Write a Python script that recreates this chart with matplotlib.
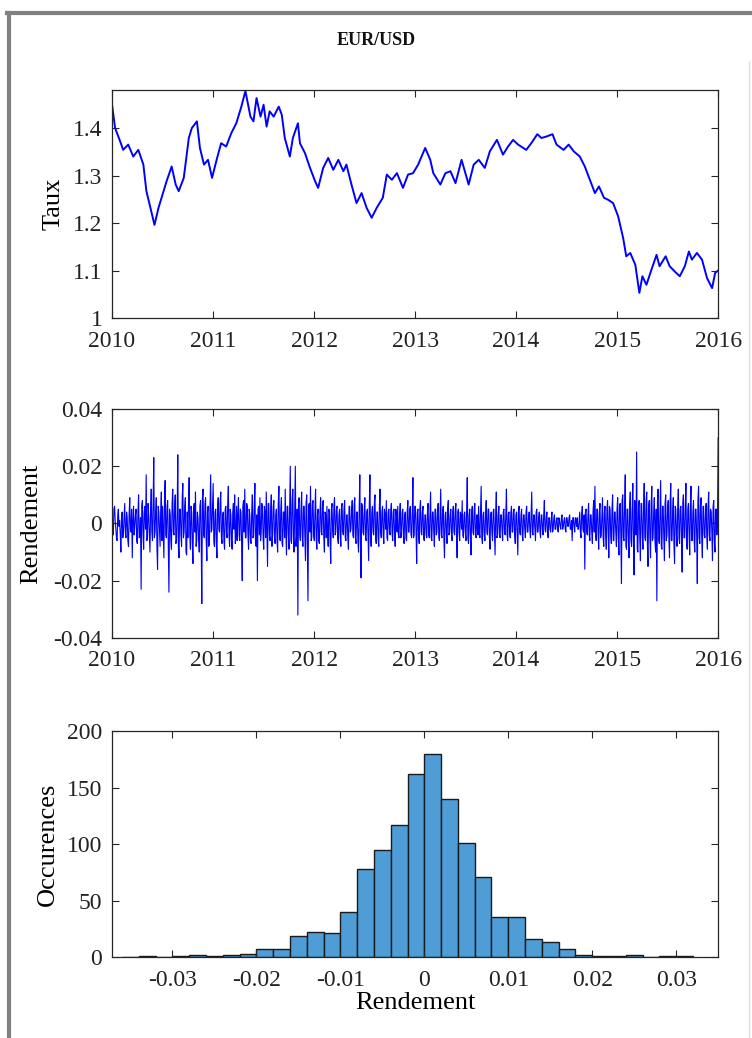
import numpy as np
import matplotlib
matplotlib.use("Agg")
import matplotlib.pyplot as plt
from matplotlib.ticker import FormatStrFormatter
from matplotlib.lines import Line2D

plt.rcParams['font.family'] = ['Liberation Serif', 'DejaVu Serif']
plt.rcParams['font.size'] = 17

# EUR/USD rate (decimal year, rate)
taux_t = [2010.00, 2010.03, 2010.08, 2010.11, 2010.16, 2010.21, 2010.26, 2010.31, 2010.34, 2010.38,
          2010.42, 2010.46, 2010.50, 2010.54, 2010.59, 2010.63, 2010.66, 2010.71, 2010.76, 2010.79,
          2010.84, 2010.87, 2010.91, 2010.95, 2010.99, 2011.04, 2011.08, 2011.13, 2011.18, 2011.23,
          2011.28, 2011.32, 2011.37, 2011.40, 2011.43, 2011.47, 2011.50, 2011.53, 2011.56, 2011.60,
          2011.65, 2011.68, 2011.71, 2011.76, 2011.79, 2011.84, 2011.86, 2011.91, 2011.96, 2012.01,
          2012.04, 2012.09, 2012.14, 2012.19, 2012.24, 2012.29, 2012.32, 2012.37, 2012.42, 2012.47,
          2012.52, 2012.57, 2012.62, 2012.68, 2012.72, 2012.77, 2012.82, 2012.88, 2012.93, 2012.98,
          2013.03, 2013.10, 2013.15, 2013.18, 2013.25, 2013.30, 2013.35, 2013.40, 2013.46, 2013.53,
          2013.58, 2013.63, 2013.69, 2013.74, 2013.81, 2013.87, 2013.92, 2013.97, 2014.02, 2014.10,
          2014.15, 2014.21, 2014.25, 2014.30, 2014.36, 2014.40, 2014.47, 2014.52, 2014.57, 2014.63,
          2014.68, 2014.73, 2014.78, 2014.82, 2014.87, 2014.91, 2014.96, 2015.01, 2015.06, 2015.09,
          2015.13, 2015.18, 2015.22, 2015.25, 2015.29, 2015.34, 2015.39, 2015.42, 2015.48, 2015.52,
          2015.57, 2015.62, 2015.67, 2015.71, 2015.74, 2015.79, 2015.84, 2015.89, 2015.94, 2015.97,
          2016.00]
taux = [1.449, 1.400, 1.372, 1.354, 1.365, 1.340, 1.354, 1.323, 1.267, 1.232,
        1.196, 1.232, 1.260, 1.288, 1.319, 1.281, 1.267, 1.295, 1.379, 1.400,
        1.414, 1.358, 1.323, 1.333, 1.295, 1.337, 1.368, 1.361, 1.389, 1.410,
        1.445, 1.478, 1.424, 1.414, 1.463, 1.424, 1.449, 1.403, 1.435, 1.424,
        1.445, 1.428, 1.379, 1.340, 1.379, 1.410, 1.368, 1.347, 1.316, 1.288,
        1.274, 1.316, 1.337, 1.312, 1.333, 1.309, 1.323, 1.281, 1.242, 1.263,
        1.232, 1.211, 1.232, 1.253, 1.302, 1.291, 1.305, 1.274, 1.302, 1.305,
        1.323, 1.358, 1.333, 1.305, 1.281, 1.305, 1.309, 1.284, 1.333, 1.281,
        1.323, 1.333, 1.316, 1.351, 1.375, 1.344, 1.361, 1.375, 1.365, 1.354,
        1.368, 1.387, 1.379, 1.382, 1.387, 1.365, 1.354, 1.365, 1.351, 1.340,
        1.319, 1.291, 1.263, 1.277, 1.253, 1.249, 1.242, 1.214, 1.168, 1.130,
        1.137, 1.112, 1.053, 1.088, 1.070, 1.102, 1.133, 1.109, 1.130, 1.109,
        1.098, 1.088, 1.109, 1.140, 1.123, 1.137, 1.123, 1.084, 1.063, 1.095,
        1.100]

# daily returns (in 1e-3), 2010 -> 2016
rend_milli = [
    # 2010
    3, -2, -4, 5, 6, 1, -2, -5, -6, 3, 5, -1, 1, -4, -10, 2, 4, -5, -3, 2,
    7, -3, -5, 4, 2, -6, -8, 3, 9, -2, -3, 5, -12, 1, 6, -4, -1, 3, 5, -6,
    -7, 4, 10, -5, -4, 2, -23, 6, 8, -3, -9, 4, 6, -2, 17, -6, -5, 7, 3, -4,
    -10, 5, 12, -3, -6, 7, 23, -5, -3, 4, 9, -8, -16, 6, 4, -2, -8, 5, 11, -6,
    6, -3, -12, 8, 15, -4, -5, 6, 8, -9, -24, 5, 3, -6, -9, 7, 12, -3, -4, 6,
    10, -7, -6, 3, 24, -8, -12, 5, 5, -4, -8, 9, 14, -5, -3, 6, 9, -10, -11, 4,
    -5, 7, 16, -4, -9, 6, 4, -7, -14, 5, 7, -3, 11, -8, -6, 4, 2, -5, -10, 6,
    8, -5, -28, 9, 12, -4, -5, 7, 9, -6, -13, 4, 6, -8, -7, 5, 17, -3, -2, 6,
    # 2011
    14, -6, -8, 4, 5, -7, -12, 6, 9, -2, -3, 7, 11, -5, -7, 3, 4, -6, -9, 5,
    6, -3, -5, 7, 13, -4, -8, 5, 3, -6, -9, 4, 7, -2, 10, -7, -4, 6, -6, 3,
    9, -4, -6, 5, 4, -7, -20, 6, 8, -3, 12, -5, -5, 7, 6, -4, -9, 5, 3, -6,
    -7, 4, 10, -5, -4, 6, 14, -7, -8, 3, -20, 5, 6, -4, 9, -6, -3, 7, 5, -5,
    -9, 6, 4, -5, 11, -3, -15, 7, 7, -4, -6, 5, 10, -8, -4, 6, 8, -5, -7, 3,
    5, -6, -10, 7, 13, -4, -6, 5, 9, -7, -8, 4, 4, -5, 12, -3, -11, 6, 6, -4,
    -9, 5, 20, -6, -7, 8, 12, -5, -10, 6, 20, -8, -4, 5, -32, 7, 9, -4, -6, 5,
    11, -5, -8, 6, 6, -4, -13, 7, 10, -9, -27, 6, 7, -3, 13, -6, -5, 7, 8, -4,
    # 2012
    -6, 4, 12, -5, -9, 3, 5, -6, -7, 4, 9, -3, -4, 6, 8, -5, -10, 4, 3, -5,
    6, -3, -8, 5, 4, -6, -14, 5, 7, -2, -5, 6, 9, -4, -3, 5, 6, -5, -7, 3,
    5, -4, -8, 6, 7, -3, -4, 5, 8, -5, -6, 3, 3, -5, -9, 6, 6, -3, -2, 4,
    8, -4, -5, 6, 9, -5, -7, 4, 4, -6, -10, 5, 17, -6, -19, 7, 6, -3, -4, 5,
    9, -5, -6, 4, 5, -4, -13, 6, 17, -5, -8, 4, 6, -3, -4, 7, 10, -5, -7, 4,
    4, -5, -8, 6, 12, -3, -5, 4, 6, -4, -7, 5, 3, -2, 8, -5, -6, 4, 5, -3,
    -4, 5, 7, -3, -6, 4, 5, -4, -8, 5, 3, -3, 6, -4, -5, 3, 7, -5, -3, 4,
    5, -4, -7, 3, 4, -5, -6, 4, 8, -3, -3, 5, 6, -4, -5, 3, 16, -5, -4, 6,
    # 2013
    6, -3, -14, 4, 5, -4, -7, 5, 8, -3, -4, 4, 6, -5, -6, 3, 3, -4, -5, 4,
    7, -4, -5, 3, 11, -5, -6, 4, 4, -3, -8, 5, 5, -4, -3, 4, 7, -5, -6, 3,
    12, -4, -5, 4, 6, -5, -12, 3, 4, -3, -7, 5, 8, -4, -3, 3, 5, -4, -6, 4,
    6, -3, -4, 5, 7, -4, -12, 4, 5, -3, -6, 4, 3, -2, 8, -4, -5, 3, 4, -3,
    -6, 4, 16, -5, -7, 3, 5, -4, -11, 4, 6, -3, -4, 5, 7, -4, -5, 3, 3, -4,
    6, -3, -5, 4, 13, -5, -7, 3, 4, -4, -6, 3, 8, -3, -4, 5, 5, -4, -9, 3,
    4, -3, -6, 4, 5, -3, -11, 4, 11, -5, -4, 3, 6, -4, -5, 3, 3, -2, -6, 4,
    5, -3, -4, 3, 12, -4, -6, 3, 4, -3, -5, 4, 6, -3, -3, 4, 5, -4, -7, 3,
    # 2014
    4, -3, -11, 4, 6, -3, -4, 3, 5, -4, -6, 3, 3, -2, -5, 4, 6, -3, -3, 2,
    4, -2, -5, 3, 11, -3, -4, 3, 3, -2, -6, 4, 5, -3, -3, 2, 4, -3, -5, 3,
    3, -2, -4, 3, 8, -2, -3, 2, 4, -3, -5, 2, 2, -2, -3, 2, 4, -3, -2, 2,
    3, -2, -2, 1, 2, -2, -3, 2, 1, -1, -2, 2, 3, -2, -1, 1, 2, -2, -3, 2,
    2, -1, -1, 2, 3, -2, -2, 1, -6, 2, 2, -1, -3, 2, 1, -1, 2, -2, -2, 1,
    4, -3, -5, 3, 6, -2, -3, 3, -16, 4, 5, -3, -4, 3, 7, -4, -6, 3, 3, -3,
    -7, 4, 8, -3, 13, -4, -6, 5, 5, -3, -9, 4, 7, -5, -4, 3, 9, -5, -8, 4,
    6, -4, -9, 5, 8, -3, -12, 6, 5, -4, -7, 5, 10, -6, -6, 4, 4, -3, -8, 5,
    # 2015
    9, -5, -11, 6, 7, -4, -21, 8, 10, -5, -6, 7, 17, -8, -9, 5, 5, -6, -12, 7,
    11, -6, -8, 5, 14, -7, -18, 8, 6, -4, 25, -9, -10, 6, 8, -5, -13, 7, 7, -4,
    -9, 6, 14, -5, -6, 8, 11, -7, -15, 6, 8, -5, -12, 7, 13, -6, -5, 4, 9, -6,
    -10, 5, -27, 8, 12, -6, -7, 5, 15, -8, -9, 6, 6, -5, -13, 7, 10, -6, -4, 5,
    8, -5, -12, 7, 14, -6, -6, 4, 9, -7, -14, 6, 5, -4, -8, 6, 12, -5, -7, 5,
    6, -4, -17, 7, 10, -5, -5, 6, 14, -7, -9, 5, 7, -4, -11, 6, 13, -6, -6, 4,
    8, -6, -10, 5, 5, -4, -21, 8, 13, -5, -7, 6, 9, -5, -12, 6, 6, -4, -5, 4,
    7, -5, -9, 6, 11, -4, -6, 5, 4, -3, -13, 6, 8, -6, -10, 5, 5, -4, 2, 30,
]
rendement = np.array(rend_milli) / 1000.0
rend_t = np.linspace(2010, 2016, len(rendement))

# histogram of returns: bin edges every 0.002, counts
bin_edges = np.round(np.arange(-0.036, 0.0321, 0.002), 4)
occurences = [0, 1, 0, 1, 2, 1, 2, 3, 7, 7,
              19, 22, 21, 40, 78, 95, 117, 162, 180, 140,
              101, 71, 35, 35, 16, 13, 7, 2, 1, 1,
              2, 0, 1, 1]

line_col = '#0000FF'
bar_col = '#4F9DD6'
frame_col = '#262626'


def matlab_axes(ax):
    for sp in ax.spines.values():
        sp.set_color(frame_col)
        sp.set_linewidth(0.9)
    ax.tick_params(direction='in', top=True, right=True, length=5, width=0.8,
                   colors=frame_col, labelcolor='#222222', labelsize=17)
    ax.tick_params(axis='x', pad=9)
    ax.tick_params(axis='y', pad=7)


fig = plt.figure(figsize=(7.52, 10.38), dpi=100)
fig.patch.set_facecolor('white')

# top: exchange rate
ax1 = fig.add_axes([0.149, 0.6936, 0.806, 0.2197])
ax1.plot(taux_t, taux, color=line_col, lw=1.4)
ax1.set_xlim(2010, 2016)
ax1.set_ylim(1, 1.48)
ax1.set_xticks(range(2010, 2017))
ax1.set_yticks([1, 1.1, 1.2, 1.3, 1.4])
ax1.yaxis.set_major_formatter(FormatStrFormatter('%g'))
ax1.set_ylabel('Taux', fontsize=19, labelpad=6)
matlab_axes(ax1)

# middle: returns
ax2 = fig.add_axes([0.149, 0.3854, 0.806, 0.2206])
ax2.plot(rend_t, rendement, color=line_col, lw=0.8)
ax2.set_xlim(2010, 2016)
ax2.set_ylim(-0.04, 0.04)
ax2.set_xticks(range(2010, 2017))
ax2.set_yticks([-0.04, -0.02, 0, 0.02, 0.04])
ax2.yaxis.set_major_formatter(FormatStrFormatter('%g'))
ax2.set_ylabel('Rendement', fontsize=19, labelpad=8)
matlab_axes(ax2)

# bottom: histogram
ax3 = fig.add_axes([0.149, 0.078, 0.806, 0.2177])
ax3.bar(bin_edges[:-1], occurences, width=0.002, align='edge',
        color=bar_col, edgecolor='#1a1a1a', linewidth=1.0)
ax3.set_xlim(-0.0372, 0.035)
ax3.set_ylim(0, 200)
ax3.set_xticks([-0.03, -0.02, -0.01, 0, 0.01, 0.02, 0.03])
ax3.set_yticks([0, 50, 100, 150, 200])
ax3.xaxis.set_major_formatter(FormatStrFormatter('%g'))
ax3.set_xlabel('Rendement', fontsize=19, labelpad=1)
ax3.set_ylabel('Occurences', fontsize=19, labelpad=6)
matlab_axes(ax3)

fig.text(0.5, 0.961, 'EUR/USD', ha='center', va='center', fontsize=13,
         fontweight='bold', color='#111111')

# window frame of the screenshot
fig.add_artist(Line2D([0.009, 1.0], [0.9875, 0.9875], transform=fig.transFigure,
                      color='#808080', lw=3))
fig.add_artist(Line2D([0.012, 0.012], [0.0, 0.9875], transform=fig.transFigure,
                      color='#808080', lw=3))
fig.add_artist(Line2D([0.996, 0.996], [0.0, 0.94], transform=fig.transFigure,
                      color='#dddddd', lw=1))

fig.savefig('out.png', dpi=100)
